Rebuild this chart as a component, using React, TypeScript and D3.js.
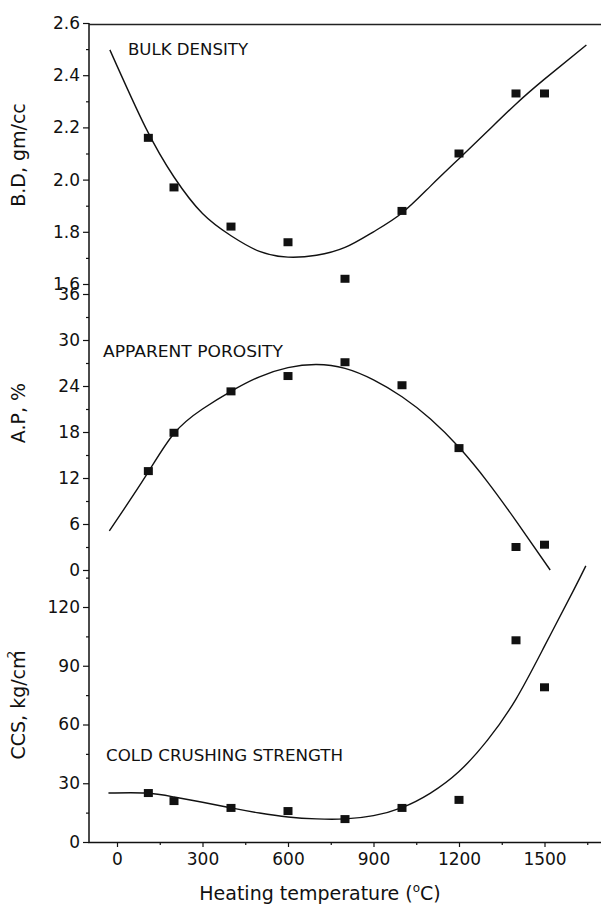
import React, { useEffect, useRef } from 'react';
import * as d3 from 'd3';

const W = 601;
const H = 908;

// measured points
const temps = [110, 200, 400, 600, 800, 1000, 1200, 1400, 1500];
const bulkDensity = [2.16, 1.97, 1.82, 1.76, 1.62, 1.88, 2.10, 2.33, 2.33];
const porosity = [12.9, 17.9, 23.3, 25.3, 27.1, 24.1, 15.9, 3.0, 3.3];
const crushing = [25.0, 20.9, 17.4, 15.8, 11.7, 17.4, 21.5, 103, 79];

// fitted curves
const bdFitT = [-25, 100, 200, 300, 400, 500, 600, 700, 800, 900, 1000, 1100, 1200, 1300, 1400, 1500, 1647];
const bdFit = [2.497, 2.2, 2.01, 1.87, 1.785, 1.725, 1.703, 1.71, 1.74, 1.8, 1.872, 1.975, 2.08, 2.185, 2.29, 2.385, 2.516];
const apFitT = [-27, 100, 200, 300, 400, 500, 600, 700, 800, 900, 1000, 1100, 1200, 1300, 1400, 1520];
const apFit = [5.1, 12.2, 17.8, 21.0, 23.3, 25.2, 26.4, 26.8, 26.3, 24.8, 22.6, 19.7, 16.0, 11.5, 6.4, 0];
const ccsFitT = [-30, 100, 200, 300, 400, 500, 600, 700, 800, 900, 1000, 1100, 1200, 1300, 1400, 1500, 1600, 1645];
const ccsFit = [25, 25, 23, 20.3, 17.4, 14.8, 12.8, 11.8, 11.8, 13.5, 17.6, 25, 36, 52, 73, 100, 128, 141];

const xMajor = [0, 300, 600, 900, 1200, 1500];
const xMinor = [150, 450, 750, 1050, 1350, 1650];

const FONT = 'DejaVu Sans, sans-serif';

export default function App() {
  const ref = useRef<SVGSVGElement>(null);

  useEffect(() => {
    const svg = d3.select(ref.current);
    svg.selectAll('*').remove();

    const x = d3.scaleLinear().domain([-100, 1700]).range([88.5, 601.5]);
    const yBD = d3.scaleLinear().domain([1.6, 2.6]).range([284, 23]);
    const yAP = d3.scaleLinear().domain([0, 36]).range([570, 294]);
    const yCCS = d3.scaleLinear().domain([0, 120]).range([842, 607]);

    const panels = [
      { y: yBD, major: d3.range(1.6, 2.61, 0.2), minor: d3.range(1.7, 2.6, 0.2), fmt: d3.format('.1f'),
        pts: bulkDensity, fitT: bdFitT, fit: bdFit },
      { y: yAP, major: d3.range(0, 37, 6), minor: d3.range(3, 36, 6), fmt: d3.format('d'),
        pts: porosity, fitT: apFitT, fit: apFit },
      { y: yCCS, major: d3.range(0, 121, 30), minor: d3.range(15, 136, 30), fmt: d3.format('d'),
        pts: crushing, fitT: ccsFitT, fit: ccsFit },
    ];

    panels.forEach((p) => {
      const gMaj = svg.append('g').attr('transform', 'translate(89,0)')
        .call(d3.axisLeft(p.y).tickValues(p.major).tickSize(6).tickPadding(3).tickFormat(p.fmt as any));
      const gMin = svg.append('g').attr('transform', 'translate(89,0)')
        .call(d3.axisLeft(p.y).tickValues(p.minor).tickSize(3).tickFormat(() => ''));
      [gMaj, gMin].forEach((g) => {
        g.select('.domain').remove();
        g.selectAll('line').attr('stroke', '#111').attr('stroke-width', 1.2);
      });
      gMaj.selectAll('text').attr('font-family', FONT).attr('font-size', 17).attr('fill', '#111');

      const line = d3.line<number>()
        .x((_, i) => x(p.fitT[i]))
        .y((d) => p.y(d))
        .curve(d3.curveNatural);
      svg.append('path').attr('d', line(p.fit)).attr('fill', 'none')
        .attr('stroke', '#111').attr('stroke-width', 1.4);

      svg.append('g').selectAll('rect').data(p.pts).join('rect')
        .attr('x', (_, i) => x(temps[i]) - 4.5)
        .attr('y', (d) => p.y(d) - 4)
        .attr('width', 9).attr('height', 8).attr('fill', '#111');
    });

    // x axis
    const gx = svg.append('g').attr('transform', 'translate(0,842)')
      .call(d3.axisBottom(x).tickValues(xMajor).tickSize(5).tickPadding(6).tickFormat(d3.format('d') as any));
    const gx2 = svg.append('g').attr('transform', 'translate(0,842)')
      .call(d3.axisBottom(x).tickValues(xMinor).tickSize(3).tickFormat(() => ''));
    [gx, gx2].forEach((g) => {
      g.select('.domain').remove();
      g.selectAll('line').attr('stroke', '#111').attr('stroke-width', 1.2);
    });
    gx.selectAll('text').attr('font-family', FONT).attr('font-size', 17).attr('fill', '#111');

    // frame lines
    svg.append('path').attr('d', 'M89,23V842.5H601').attr('fill', 'none').attr('stroke', '#111').attr('stroke-width', 1.5);
    svg.append('line').attr('x1', 89).attr('x2', 601).attr('y1', 24.5).attr('y2', 24.5)
      .attr('stroke', '#222').attr('stroke-width', 1.5);

    // annotations
    const note = (t: string, xx: number, yy: number, len: number) =>
      svg.append('text').attr('x', xx).attr('y', yy).attr('font-family', FONT).attr('font-size', 15)
        .attr('textLength', len).attr('lengthAdjust', 'spacingAndGlyphs').attr('fill', '#111').text(t);
    note('BULK DENSITY', 128, 55, 120);
    note('APPARENT POROSITY', 103, 357, 180);
    note('COLD CRUSHING STRENGTH', 106, 761, 237);

    // axis titles
    const ytitle = (cy: number) =>
      svg.append('text').attr('transform', `translate(25,${cy}) rotate(-90)`)
        .attr('text-anchor', 'middle').attr('font-family', FONT).attr('font-size', 19).attr('fill', '#111');
    ytitle(155).text('B.D, gm/cc');
    ytitle(413).text('A.P, %');
    const t3 = ytitle(705);
    t3.append('tspan').text('CCS, kg/cm');
    t3.append('tspan').attr('font-size', 12).attr('dx', -8).attr('dy', -9).text('2');

    const xt = svg.append('text').attr('x', 320).attr('y', 900).attr('text-anchor', 'middle')
      .attr('font-family', FONT).attr('font-size', 19).attr('fill', '#111');
    xt.append('tspan').text('Heating temperature (');
    xt.append('tspan').attr('font-size', 12).attr('dy', -8).text('o');
    xt.append('tspan').attr('dy', 8).text('C)');
  }, []);

  return (
    <svg ref={ref} width={W} height={H}
      style={{ position: 'absolute', left: 0, top: 0, background: '#fff' }} />
  );
}
